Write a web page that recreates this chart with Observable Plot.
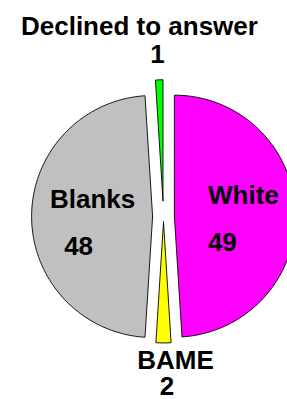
<!DOCTYPE html>
<html>
<head>
<meta charset="utf-8">
<script src="https://cdn.jsdelivr.net/npm/d3@7"></script>
<script src="https://cdn.jsdelivr.net/npm/@observablehq/plot@0.6"></script>
<style>
  html, body { margin: 0; padding: 0; background: #fff; overflow: hidden; }
  #chart svg { display: block; }
</style>
</head>
<body>
<div id="chart"></div>
<script>
// ---- data ----
const categories = ["White", "BAME", "Blanks", "Declined to answer"];
const values = [49, 2, 48, 1];
const colors = ["#FF00FF", "#FFFF00", "#C0C0C0", "#00FF00"];

// ---- layout / style ----
const W = 287, H = 399;
const R = 121;            // pie radius in px
const cx = 163, cy = 216; // pie centre in px
const explode = [0.09, 0.045, 0.09, 0.13]; // fraction of radius
// label anchor: radius factor along slice mid-angle, then pixel nudges for name / value lines
const labelLayout = [
  {f: 0.5, name: [8.5, -19], value: [-12.5, 28]},
  {f: 1.2, name: [12, -6], value: [3.5, 20]},
  {f: 0.5, name: [0.5, -17], value: [-13.5, 30]},
  {f: 1.2, name: [-19, -29], value: [-1, -1]}
];

const pie = d3.pie().sort(null).value(d => d)(values);

const slicePts = [];
const labels = [];
pie.forEach((p, i) => {
  const mid = (p.startAngle + p.endAngle) / 2;
  const ox = explode[i] * Math.sin(mid), oy = explode[i] * Math.cos(mid);
  const n = Math.max(4, Math.ceil((p.endAngle - p.startAngle) / (2 * Math.PI) * 240));
  slicePts.push({cat: categories[i], color: colors[i], x: ox, y: oy});
  for (let k = 0; k <= n; k++) {
    const a = p.startAngle + (p.endAngle - p.startAngle) * k / n;
    slicePts.push({cat: categories[i], color: colors[i], x: ox + Math.sin(a), y: oy + Math.cos(a)});
  }
  slicePts.push({cat: categories[i], color: colors[i], x: ox, y: oy});
  const L = labelLayout[i];
  const ax = ox + L.f * Math.sin(mid), ay = oy + L.f * Math.cos(mid);
  labels.push({text: categories[i], x: ax, y: ay, dx: L.name[0], dy: L.name[1]});
  labels.push({text: String(values[i]), x: ax, y: ay, dx: L.value[0], dy: L.value[1]});
});

const textMarks = labels.map(l => Plot.text([l], {
  x: "x", y: "y", text: "text", dx: l.dx, dy: l.dy,
  fontFamily: "Liberation Sans, Arial, sans-serif", fontWeight: "bold",
  fontSize: 26, fill: "black", textAnchor: "middle"
}));

const chart = Plot.plot({
  width: W, height: H,
  marginTop: 0, marginRight: 0, marginBottom: 0, marginLeft: 0,
  x: {domain: [-cx / R, (W - cx) / R], range: [0, W], axis: null},
  y: {domain: [(cy - H) / R, cy / R], range: [H, 0], axis: null},
  color: {type: "identity"},
  style: {background: "#fff", overflow: "hidden"},
  marks: [
    Plot.line(slicePts, {x: "x", y: "y", z: "cat", fill: "color", stroke: "black", strokeWidth: 0.9, curve: "linear"}),
    ...textMarks
  ]
});
document.getElementById("chart").appendChild(chart);
</script>
</body>
</html>
